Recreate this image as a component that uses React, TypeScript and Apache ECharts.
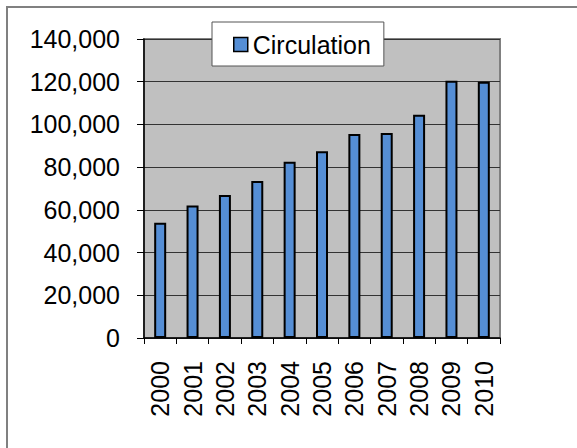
import React, { useEffect, useRef } from "react";
import * as echarts from "echarts";

const years = ["2000", "2001", "2002", "2003", "2004", "2005", "2006", "2007", "2008", "2009", "2010"];
const circulation = [54000, 62000, 67000, 73500, 82500, 87500, 95500, 96000, 104500, 120500, 120000];
const seriesName = "Circulation";

const FONT = "'Liberation Sans', Arial, sans-serif";

export default function App() {
  const ref = useRef<HTMLDivElement>(null);
  useEffect(() => {
    if (!ref.current) return;
    const chart = echarts.init(ref.current, null, { renderer: "svg" });
    chart.setOption({
      animation: false,
      backgroundColor: "#ffffff",
      textStyle: { fontFamily: FONT },
      graphic: [
        {
          type: "rect",
          shape: { x: 7, y: 7, width: 620, height: 500 },
          style: { fill: "none", stroke: "#808080", lineWidth: 2 },
          z: 100,
        },
      ],
      grid: {
        left: 144,
        right: 77,
        top: 39,
        bottom: 110,
        show: true,
        backgroundColor: "#C0C0C0",
        borderColor: "#808080",
        borderWidth: 2,
      },
      legend: {
        data: [seriesName],
        left: 212,
        top: 22,
        backgroundColor: "#ffffff",
        borderColor: "#555555",
        borderWidth: 1,
        padding: [10, 13, 9, 21],
        itemWidth: 14,
        itemHeight: 14,
        itemGap: 5,
        icon: "rect",
        itemStyle: { color: "#558ED5", borderColor: "#000000", borderWidth: 1.5 },
        textStyle: { fontFamily: FONT, fontSize: 25, color: "#000000", padding: [0, 0, 0, 0] },
        z: 10,
      },
      xAxis: {
        type: "category",
        data: years,
        axisLine: { lineStyle: { color: "#000000", width: 1.5 } },
        axisTick: { show: true, length: 6, lineStyle: { color: "#000000", width: 1 } },
        axisLabel: {
          interval: 0,
          rotate: 90,
          margin: 23,
          fontFamily: FONT,
          fontSize: 25,
          color: "#000000",
        },
      },
      yAxis: {
        type: "value",
        min: 0,
        max: 140000,
        interval: 20000,
        axisLine: { show: true, lineStyle: { color: "#000000", width: 1.5 } },
        axisTick: { show: true, length: 7, lineStyle: { color: "#000000", width: 1 } },
        splitLine: { show: true, lineStyle: { color: "#333333", width: 1 } },
        axisLabel: {
          margin: 24,
          fontFamily: FONT,
          fontSize: 25,
          color: "#000000",
          formatter: (v: number) => v.toLocaleString("en-US"),
        },
      },
      series: [
        {
          name: seriesName,
          type: "bar",
          data: circulation,
          barWidth: 12,
          itemStyle: { color: "#558ED5", borderColor: "#000000", borderWidth: 2 },
        },
      ],
    });
    return () => chart.dispose();
  }, []);
  return (
    <div
      ref={ref}
      style={{ position: "absolute", left: 0, top: 0, width: 577, height: 448 }}
    />
  );
}
